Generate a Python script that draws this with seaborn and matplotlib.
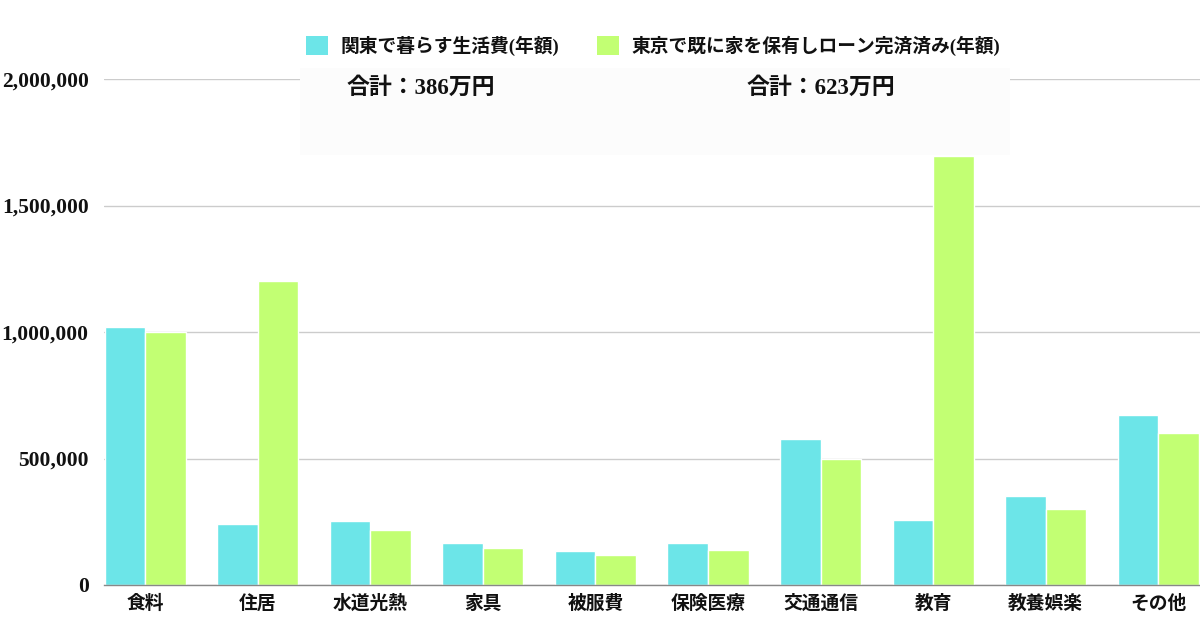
import matplotlib
matplotlib.use("Agg")
import matplotlib.pyplot as plt
import seaborn as sns
import pandas as pd
from matplotlib.patches import Rectangle, Patch
from matplotlib.ticker import FuncFormatter

categories = ["食料", "住居", "水道光熱", "家具", "被服費", "保険医療", "交通通信", "教育", "教養娯楽", "その他"]
series_names = ["関東で暮らす生活費(年額)", "東京で既に家を保有しローン完済済み(年額)"]
kanto = [1020000, 240000, 253000, 166000, 134000, 165000, 577000, 258000, 353000, 673000]
tokyo = [1000000, 1200000, 217000, 146000, 117000, 138000, 500000, 1696000, 300000, 600000]
totals = ["合計：386万円", "合計：623万円"]
yticks = [0, 500000, 1000000, 1500000, 2000000]
colors = ["#6ce5e8", "#c2ff73"]

df = pd.DataFrame({
    "category": categories * 2,
    "series": [series_names[0]] * len(categories) + [series_names[1]] * len(categories),
    "value": kanto + tokyo,
})

sns.set_theme(style="white")
plt.rcParams["font.family"] = ["Liberation Serif", "Noto Sans CJK JP"]
plt.rcParams["font.weight"] = "bold"

fig = plt.figure(figsize=(12, 6.3), dpi=100)
ax = fig.add_axes([104 / 1200, 45 / 630, 1 - 104 / 1200, (585 - 79) / 630])

sns.barplot(data=df, x="category", y="value", hue="series", order=categories,
            hue_order=series_names, palette=colors, width=0.72, ax=ax,
            edgecolor="white", linewidth=1, saturation=1, legend=False)

ax.set_ylim(0, 2000000)
ax.set_xlim(-0.365, 9.37)
ax.set_yticks(yticks)
ax.yaxis.set_major_formatter(FuncFormatter(lambda v, p: f"{int(v):,}"))
ax.grid(axis="y", color="#cccccc", linewidth=1)
ax.set_axisbelow(True)
for s in ["top", "right", "left"]:
    ax.spines[s].set_visible(False)
ax.spines["bottom"].set_color("#888888")
ax.spines["bottom"].set_linewidth(1)
ax.tick_params(axis="y", length=0, pad=11, labelsize=15.5)
ax.tick_params(axis="x", length=0, pad=7, labelsize=13.5)
for lab in ax.get_xticklabels() + ax.get_yticklabels():
    lab.set_fontweight("bold")
    lab.set_color("#111111")
ax.set_xlabel("")
ax.set_ylabel("")

# summary box
fig.add_artist(Rectangle((300 / 1200, 1 - 155 / 630), 710 / 1200, 87 / 630,
                         transform=fig.transFigure, facecolor="#fcfcfc",
                         edgecolor="none", zorder=2))
fig.text(347 / 1200, 1 - 88 / 630, totals[0], fontsize=16.5, fontweight="bold",
         va="center", ha="left", color="#111111", zorder=3)
fig.text(747 / 1200, 1 - 88 / 630, totals[1], fontsize=16.5, fontweight="bold",
         va="center", ha="left", color="#111111", zorder=3)

handles = [Patch(facecolor=c, edgecolor="none") for c in colors]
leg = fig.legend(handles, series_names, loc="center", bbox_to_anchor=(653 / 1200, 1 - 46 / 630),
                 ncol=2, frameon=False, fontsize=13.5, handlelength=1.2, handleheight=1.2,
                 handletextpad=0.65, columnspacing=2.0)
for t in leg.get_texts():
    t.set_fontweight("bold")
    t.set_color("#111111")

fig.savefig("out.png", dpi=100, facecolor="white")
